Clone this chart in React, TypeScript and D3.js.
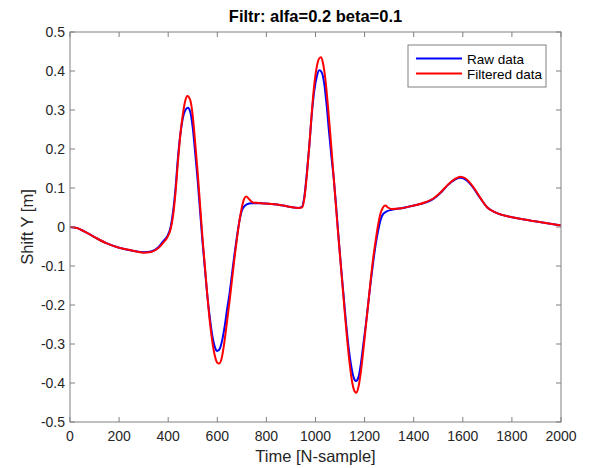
import React from "react";
import * as d3 from "d3";

const rawN = [0, 30, 60, 100, 150, 200, 250, 300, 330, 360, 380, 395, 410, 420, 430, 440, 450, 460, 470, 480, 490, 500, 510, 520, 530, 540, 550, 560, 570, 580, 590, 600, 610, 620, 630, 640, 650, 660, 670, 680, 690, 700, 710, 720, 740, 780, 820, 860, 900, 930, 945, 955, 965, 975, 985, 995, 1005, 1015, 1025, 1035, 1045, 1055, 1065, 1075, 1085, 1095, 1105, 1115, 1125, 1135, 1145, 1155, 1165, 1175, 1185, 1195, 1205, 1215, 1225, 1235, 1245, 1255, 1265, 1275, 1290, 1310, 1350, 1400, 1450, 1480, 1510, 1540, 1570, 1590, 1610, 1640, 1670, 1700, 1730, 1760, 1800, 1850, 1900, 1950, 2000];
const rawV = [0.0, -0.003, -0.012, -0.026, -0.042, -0.053, -0.06, -0.065, -0.063, -0.052, -0.036, -0.025, 0.0, 0.04, 0.1, 0.18, 0.24, 0.28, 0.3, 0.306, 0.295, 0.255, 0.19, 0.12, 0.04, -0.04, -0.11, -0.18, -0.235, -0.28, -0.308, -0.318, -0.312, -0.29, -0.255, -0.21, -0.17, -0.12, -0.07, -0.025, 0.015, 0.042, 0.053, 0.058, 0.061, 0.061, 0.059, 0.056, 0.051, 0.049, 0.052, 0.08, 0.14, 0.21, 0.29, 0.35, 0.385, 0.402, 0.397, 0.37, 0.315, 0.245, 0.18, 0.12, 0.045, -0.035, -0.11, -0.18, -0.25, -0.31, -0.355, -0.385, -0.395, -0.385, -0.35, -0.3, -0.25, -0.195, -0.14, -0.09, -0.045, -0.01, 0.018, 0.033, 0.04, 0.044, 0.048, 0.055, 0.063, 0.072, 0.088, 0.108, 0.122, 0.126, 0.122, 0.103, 0.075, 0.05, 0.038, 0.031, 0.025, 0.019, 0.014, 0.009, 0.004];

const filtN = [0, 30, 60, 100, 150, 200, 250, 300, 330, 360, 380, 395, 410, 420, 430, 440, 450, 460, 470, 478, 490, 500, 510, 520, 530, 540, 550, 560, 570, 580, 590, 600, 608, 620, 630, 640, 650, 660, 670, 680, 690, 700, 710, 718, 730, 745, 780, 820, 860, 900, 930, 945, 955, 965, 975, 985, 995, 1005, 1015, 1022, 1030, 1040, 1050, 1060, 1070, 1080, 1090, 1100, 1110, 1120, 1130, 1140, 1150, 1160, 1167, 1175, 1185, 1195, 1205, 1215, 1225, 1235, 1245, 1255, 1265, 1275, 1285, 1295, 1310, 1350, 1400, 1450, 1480, 1510, 1540, 1570, 1590, 1610, 1640, 1670, 1700, 1730, 1760, 1800, 1850, 1900, 1950, 2000];
const filtV = [0.0, -0.003, -0.012, -0.026, -0.042, -0.053, -0.06, -0.066, -0.064, -0.054, -0.04, -0.028, -0.005, 0.03, 0.09, 0.17, 0.24, 0.29, 0.325, 0.336, 0.325, 0.285, 0.215, 0.14, 0.055, -0.03, -0.105, -0.18, -0.245, -0.295, -0.33, -0.348, -0.35, -0.33, -0.29, -0.24, -0.19, -0.135, -0.08, -0.03, 0.015, 0.05, 0.073, 0.078, 0.071, 0.063, 0.061, 0.059, 0.056, 0.051, 0.049, 0.05, 0.075, 0.135, 0.21, 0.295, 0.365, 0.41, 0.432, 0.435, 0.422, 0.38, 0.315, 0.24, 0.16, 0.08, 0.0, -0.075, -0.15, -0.225, -0.295, -0.355, -0.4, -0.422, -0.425, -0.41, -0.37, -0.315, -0.255, -0.195, -0.135, -0.08, -0.035, 0.005, 0.035, 0.05, 0.055, 0.05, 0.046, 0.048, 0.055, 0.064, 0.073, 0.089, 0.109, 0.124, 0.129, 0.125, 0.105, 0.076, 0.05, 0.038, 0.031, 0.025, 0.019, 0.014, 0.009, 0.004];

const xTicks = [0, 200, 400, 600, 800, 1000, 1200, 1400, 1600, 1800, 2000];
const yTicks = [-0.5, -0.4, -0.3, -0.2, -0.1, 0, 0.1, 0.2, 0.3, 0.4, 0.5];

const titleText = "Filtr: alfa=0.2 beta=0.1";
const xLabel = "Time [N-sample]";
const yLabel = "Shift Y [m]";
const seriesNames = ["Raw data", "Filtered data"];
const seriesColors = ["#0000ff", "#ff0000"];

export default function App() {
  const W = 592, H = 468;
  const L = 70, R = 561, T = 32, B = 422;
  const x = d3.scaleLinear().domain([0, 2000]).range([L, R]);
  const y = d3.scaleLinear().domain([-0.5, 0.5]).range([B, T]);
  const line = d3
    .line<[number, number]>()
    .x((d) => x(d[0]))
    .y((d) => y(d[1]))
    .curve(d3.curveMonotoneX);
  const rawPts = rawN.map((n, i) => [n, rawV[i]] as [number, number]);
  const filtPts = filtN.map((n, i) => [n, filtV[i]] as [number, number]);
  const axisColor = "#808080";
  const textColor = "#262626";
  const font = "'Liberation Sans', Arial, Helvetica, sans-serif";
  const tl = 5;
  return (
    <svg
      width={W}
      height={H}
      style={{ position: "absolute", left: 0, top: 0, background: "#fff" }}
      fontFamily={font}
    >
      <rect x={0} y={0} width={W} height={H} fill="#fff" />
      <path d={line(rawPts) || ""} fill="none" stroke={seriesColors[0]} strokeWidth={2} />
      <path d={line(filtPts) || ""} fill="none" stroke={seriesColors[1]} strokeWidth={2} />
      <rect x={L} y={T} width={R - L} height={B - T} fill="none" stroke={axisColor} strokeWidth={1} />
      {xTicks.map((t) => (
        <g key={"x" + t}>
          <line x1={x(t)} x2={x(t)} y1={B} y2={B - tl} stroke={axisColor} />
          <line x1={x(t)} x2={x(t)} y1={T} y2={T + tl} stroke={axisColor} />
          <text x={x(t)} y={441} textAnchor="middle" fontSize={14} fill={textColor}>
            {t}
          </text>
        </g>
      ))}
      {yTicks.map((t) => (
        <g key={"y" + t}>
          <line x1={L} x2={L + tl} y1={y(t)} y2={y(t)} stroke={axisColor} />
          <line x1={R} x2={R - tl} y1={y(t)} y2={y(t)} stroke={axisColor} />
          <text x={65} y={y(t) + 5} textAnchor="end" fontSize={14} fill={textColor}>
            {t === 0 ? "0" : d3.format(".1f")(t).replace("−", "-")}
          </text>
        </g>
      ))}
      <text x={(L + R) / 2} y={22} textAnchor="middle" fontSize={16.5} fontWeight="bold" fill="#000">
        {titleText}
      </text>
      <text x={(L + R) / 2} y={462} textAnchor="middle" fontSize={16.5} fill={textColor}>
        {xLabel}
      </text>
      <text
        transform={`translate(33, ${(T + B) / 2}) rotate(-90)`}
        textAnchor="middle"
        fontSize={16.5}
        fill={textColor}
      >
        {yLabel}
      </text>
      <g>
        <rect x={408} y={45} width={138} height={42} fill="#fff" stroke={axisColor} strokeWidth={1} />
        {seriesNames.map((name, i) => (
          <g key={name}>
            <line x1={416} x2={462} y1={58.5 + i * 15} y2={58.5 + i * 15} stroke={seriesColors[i]} strokeWidth={2} />
            <text x={467} y={58.5 + i * 15 + 5} fontSize={13.5} fill="#000">
              {name}
            </text>
          </g>
        ))}
      </g>
    </svg>
  );
}
